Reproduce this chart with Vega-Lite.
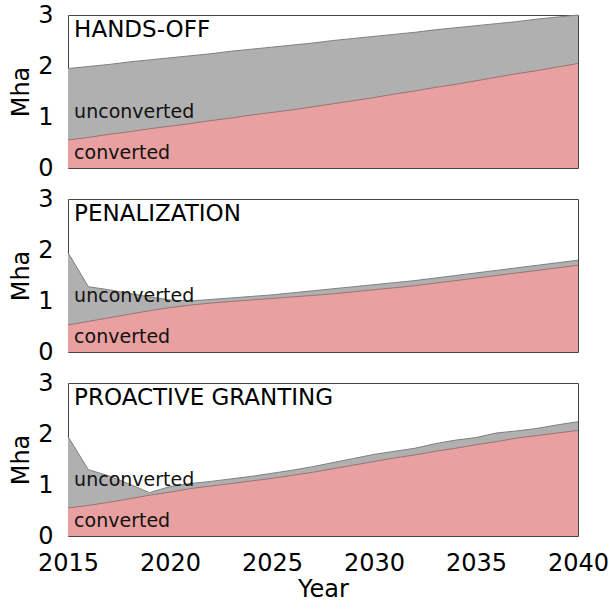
{
  "$schema": "https://vega.github.io/schema/vega-lite/v6.json",
  "padding": {"left": 9, "top": 3, "right": 2, "bottom": 2},
  "background": "white",
  "config": {
    "font": "DejaVu Sans",
    "view": {"stroke": "#444444", "strokeWidth": 1},
    "axis": {"grid": false, "domain": false, "labelColor": "black", "titleColor": "black", "labelFont": "DejaVu Sans", "titleFont": "DejaVu Sans", "labelFontSize": 24, "titleFontSize": 24, "titleFontWeight": "normal", "tickColor": "#444444"}
  },
  "data": {"values": [
    {"scenario": "HANDS-OFF", "year": 2015, "converted": 0.55, "total": 1.95},
    {"scenario": "HANDS-OFF", "year": 2016, "converted": 0.60, "total": 1.99},
    {"scenario": "HANDS-OFF", "year": 2017, "converted": 0.66, "total": 2.03},
    {"scenario": "HANDS-OFF", "year": 2018, "converted": 0.71, "total": 2.08},
    {"scenario": "HANDS-OFF", "year": 2019, "converted": 0.77, "total": 2.12},
    {"scenario": "HANDS-OFF", "year": 2020, "converted": 0.82, "total": 2.16},
    {"scenario": "HANDS-OFF", "year": 2021, "converted": 0.87, "total": 2.20},
    {"scenario": "HANDS-OFF", "year": 2022, "converted": 0.93, "total": 2.24},
    {"scenario": "HANDS-OFF", "year": 2023, "converted": 0.98, "total": 2.29},
    {"scenario": "HANDS-OFF", "year": 2024, "converted": 1.04, "total": 2.33},
    {"scenario": "HANDS-OFF", "year": 2025, "converted": 1.09, "total": 2.37},
    {"scenario": "HANDS-OFF", "year": 2026, "converted": 1.14, "total": 2.41},
    {"scenario": "HANDS-OFF", "year": 2027, "converted": 1.20, "total": 2.45},
    {"scenario": "HANDS-OFF", "year": 2028, "converted": 1.26, "total": 2.50},
    {"scenario": "HANDS-OFF", "year": 2029, "converted": 1.32, "total": 2.54},
    {"scenario": "HANDS-OFF", "year": 2030, "converted": 1.38, "total": 2.58},
    {"scenario": "HANDS-OFF", "year": 2031, "converted": 1.45, "total": 2.62},
    {"scenario": "HANDS-OFF", "year": 2032, "converted": 1.51, "total": 2.66},
    {"scenario": "HANDS-OFF", "year": 2033, "converted": 1.58, "total": 2.71},
    {"scenario": "HANDS-OFF", "year": 2034, "converted": 1.64, "total": 2.75},
    {"scenario": "HANDS-OFF", "year": 2035, "converted": 1.71, "total": 2.79},
    {"scenario": "HANDS-OFF", "year": 2036, "converted": 1.78, "total": 2.83},
    {"scenario": "HANDS-OFF", "year": 2037, "converted": 1.85, "total": 2.87},
    {"scenario": "HANDS-OFF", "year": 2038, "converted": 1.91, "total": 2.92},
    {"scenario": "HANDS-OFF", "year": 2039, "converted": 1.98, "total": 2.96},
    {"scenario": "HANDS-OFF", "year": 2040, "converted": 2.05, "total": 3.00},
    {"scenario": "PENALIZATION", "year": 2015, "converted": 0.53, "total": 1.95},
    {"scenario": "PENALIZATION", "year": 2016, "converted": 0.60, "total": 1.28},
    {"scenario": "PENALIZATION", "year": 2017, "converted": 0.67, "total": 1.22},
    {"scenario": "PENALIZATION", "year": 2018, "converted": 0.74, "total": 1.15},
    {"scenario": "PENALIZATION", "year": 2019, "converted": 0.81, "total": 1.08},
    {"scenario": "PENALIZATION", "year": 2020, "converted": 0.87, "total": 1.02},
    {"scenario": "PENALIZATION", "year": 2021, "converted": 0.92, "total": 1.00},
    {"scenario": "PENALIZATION", "year": 2022, "converted": 0.96, "total": 1.03},
    {"scenario": "PENALIZATION", "year": 2023, "converted": 0.99, "total": 1.06},
    {"scenario": "PENALIZATION", "year": 2024, "converted": 1.02, "total": 1.09},
    {"scenario": "PENALIZATION", "year": 2025, "converted": 1.05, "total": 1.12},
    {"scenario": "PENALIZATION", "year": 2026, "converted": 1.08, "total": 1.16},
    {"scenario": "PENALIZATION", "year": 2027, "converted": 1.11, "total": 1.20},
    {"scenario": "PENALIZATION", "year": 2028, "converted": 1.14, "total": 1.24},
    {"scenario": "PENALIZATION", "year": 2029, "converted": 1.18, "total": 1.28},
    {"scenario": "PENALIZATION", "year": 2030, "converted": 1.22, "total": 1.32},
    {"scenario": "PENALIZATION", "year": 2031, "converted": 1.26, "total": 1.36},
    {"scenario": "PENALIZATION", "year": 2032, "converted": 1.30, "total": 1.40},
    {"scenario": "PENALIZATION", "year": 2033, "converted": 1.35, "total": 1.45},
    {"scenario": "PENALIZATION", "year": 2034, "converted": 1.40, "total": 1.50},
    {"scenario": "PENALIZATION", "year": 2035, "converted": 1.45, "total": 1.55},
    {"scenario": "PENALIZATION", "year": 2036, "converted": 1.50, "total": 1.60},
    {"scenario": "PENALIZATION", "year": 2037, "converted": 1.55, "total": 1.65},
    {"scenario": "PENALIZATION", "year": 2038, "converted": 1.60, "total": 1.70},
    {"scenario": "PENALIZATION", "year": 2039, "converted": 1.65, "total": 1.75},
    {"scenario": "PENALIZATION", "year": 2040, "converted": 1.70, "total": 1.80},
    {"scenario": "PROACTIVE GRANTING", "year": 2015, "converted": 0.55, "total": 1.95},
    {"scenario": "PROACTIVE GRANTING", "year": 2016, "converted": 0.60, "total": 1.30},
    {"scenario": "PROACTIVE GRANTING", "year": 2017, "converted": 0.66, "total": 1.18},
    {"scenario": "PROACTIVE GRANTING", "year": 2018, "converted": 0.73, "total": 1.02},
    {"scenario": "PROACTIVE GRANTING", "year": 2019, "converted": 0.80, "total": 0.85},
    {"scenario": "PROACTIVE GRANTING", "year": 2020, "converted": 0.86, "total": 0.97},
    {"scenario": "PROACTIVE GRANTING", "year": 2021, "converted": 0.93, "total": 1.03},
    {"scenario": "PROACTIVE GRANTING", "year": 2022, "converted": 0.98, "total": 1.07},
    {"scenario": "PROACTIVE GRANTING", "year": 2023, "converted": 1.03, "total": 1.12},
    {"scenario": "PROACTIVE GRANTING", "year": 2024, "converted": 1.08, "total": 1.17},
    {"scenario": "PROACTIVE GRANTING", "year": 2025, "converted": 1.13, "total": 1.23},
    {"scenario": "PROACTIVE GRANTING", "year": 2026, "converted": 1.19, "total": 1.29},
    {"scenario": "PROACTIVE GRANTING", "year": 2027, "converted": 1.25, "total": 1.36},
    {"scenario": "PROACTIVE GRANTING", "year": 2028, "converted": 1.32, "total": 1.44},
    {"scenario": "PROACTIVE GRANTING", "year": 2029, "converted": 1.39, "total": 1.52},
    {"scenario": "PROACTIVE GRANTING", "year": 2030, "converted": 1.46, "total": 1.60},
    {"scenario": "PROACTIVE GRANTING", "year": 2031, "converted": 1.53, "total": 1.66},
    {"scenario": "PROACTIVE GRANTING", "year": 2032, "converted": 1.59, "total": 1.72},
    {"scenario": "PROACTIVE GRANTING", "year": 2033, "converted": 1.66, "total": 1.81},
    {"scenario": "PROACTIVE GRANTING", "year": 2034, "converted": 1.72, "total": 1.88},
    {"scenario": "PROACTIVE GRANTING", "year": 2035, "converted": 1.79, "total": 1.93},
    {"scenario": "PROACTIVE GRANTING", "year": 2036, "converted": 1.85, "total": 2.02},
    {"scenario": "PROACTIVE GRANTING", "year": 2037, "converted": 1.92, "total": 2.06},
    {"scenario": "PROACTIVE GRANTING", "year": 2038, "converted": 1.97, "total": 2.11},
    {"scenario": "PROACTIVE GRANTING", "year": 2039, "converted": 2.02, "total": 2.18},
    {"scenario": "PROACTIVE GRANTING", "year": 2040, "converted": 2.07, "total": 2.24}
  ]},
  "facet": {
    "row": {"field": "scenario", "type": "nominal", "sort": ["HANDS-OFF", "PENALIZATION", "PROACTIVE GRANTING"], "header": null}
  },
  "spacing": {"row": 29},
  "spec": {
    "width": 510,
    "height": 153,
    "encoding": {
      "x": {"field": "year", "type": "quantitative", "scale": {"domain": [2015, 2040], "nice": false, "zero": false},
        "axis": {"title": "Year", "values": [2015, 2020, 2025, 2030, 2035, 2040], "format": "d", "tickSize": 0, "labelPadding": 14, "titlePadding": 2, "labelFlush": false}}
    },
    "layer": [
      {"mark": {"type": "area", "color": "#b0b0b0", "opacity": 1},
       "encoding": {"y": {"field": "total", "type": "quantitative", "scale": {"domain": [0, 3], "nice": false},
         "axis": {"title": "Mha", "values": [0, 1, 2, 3], "tickSize": 0, "labelPadding": 12, "titlePadding": 4}}}},
      {"mark": {"type": "area", "color": "#e9a0a0", "opacity": 1},
       "encoding": {"y": {"field": "converted", "type": "quantitative"}}},
      {"mark": {"type": "line", "color": "#808080", "strokeWidth": 1},
       "encoding": {"y": {"field": "total", "type": "quantitative"}}},
      {"mark": {"type": "line", "color": "#9a7474", "strokeWidth": 1},
       "encoding": {"y": {"field": "converted", "type": "quantitative"}}},
      {"transform": [{"filter": "datum.year == 2015"}],
       "mark": {"type": "text", "align": "left", "baseline": "alphabetic", "fontSize": 23, "font": "DejaVu Sans", "color": "black"},
       "encoding": {"x": {"datum": 2015.3}, "y": {"datum": 2.57}, "text": {"field": "scenario"}}},
      {"transform": [{"filter": "datum.year == 2015"}],
       "mark": {"type": "text", "align": "left", "baseline": "alphabetic", "fontSize": 19, "font": "DejaVu Sans", "color": "#111111"},
       "encoding": {"x": {"datum": 2015.3}, "y": {"datum": 0.98}, "text": {"value": "unconverted"}}},
      {"transform": [{"filter": "datum.year == 2015"}],
       "mark": {"type": "text", "align": "left", "baseline": "alphabetic", "fontSize": 19, "font": "DejaVu Sans", "color": "#111111"},
       "encoding": {"x": {"datum": 2015.3}, "y": {"datum": 0.18}, "text": {"value": "converted"}}}
    ]
  }
}
